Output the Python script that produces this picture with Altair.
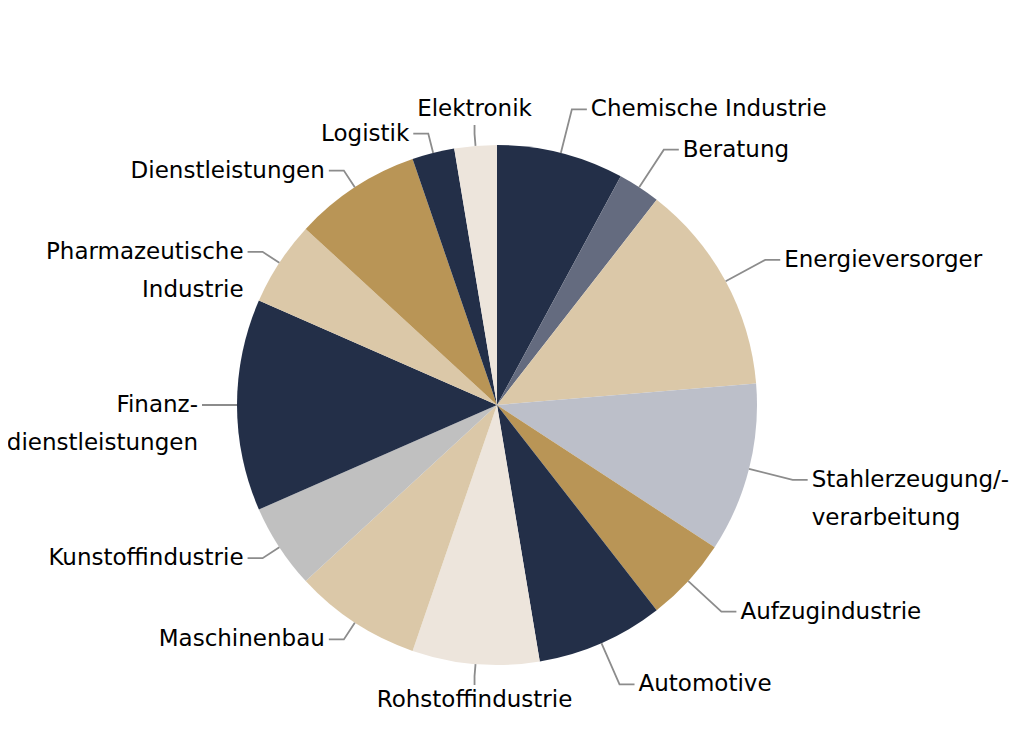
import numpy as np
import pandas as pd
import altair as alt

categories = [
    "Chemische Industrie", "Beratung", "Energieversorger",
    "Stahlerzeugung/-verarbeitung", "Aufzugindustrie", "Automotive",
    "Rohstoffindustrie", "Maschinenbau", "Kunstoffindustrie",
    "Finanzdienstleistungen", "Pharmazeutische Industrie",
    "Dienstleistungen", "Logistik", "Elektronik",
]
values = [3, 1, 5, 4, 2, 3, 3, 3, 2, 5, 2, 3, 1, 1]
labels = [
    "Chemische Industrie", "Beratung", "Energieversorger",
    "Stahlerzeugung/-\nverarbeitung", "Aufzugindustrie", "Automotive",
    "Rohstoffindustrie", "Maschinenbau", "Kunstoffindustrie",
    "Finanz-\ndienstleistungen", "Pharmazeutische\nIndustrie",
    "Dienstleistungen", "Logistik", "Elektronik",
]
colors = [
    "#232f48", "#646b7f", "#dbc8a8", "#bcbfc9", "#b99556", "#232f48",
    "#ede5dc", "#dbc8a8", "#c0c0c0", "#232f48", "#dbc8a8", "#b99556",
    "#232f48", "#ede5dc",
]

# layout
W, H = 1015, 713
CX, CY, R = 489, 397, 260
ELBOW_RIGHT = R + 45
ELBOW_LEFT = R + 20
ELBOW_VERT = R + 12
SEG = 15
GAP = 4
FONT = "DejaVu Sans"
FS = 23

df = pd.DataFrame({"category": categories, "value": values, "label": labels})
df["idx"] = np.arange(len(df))
total = df["value"].sum()
cum = df["value"].cumsum()
mid = (cum - df["value"] / 2) / total * 2 * np.pi
s, c = np.sin(mid), np.cos(mid)

line_rows, text_rows = [], []
for i, cat in enumerate(categories):
    si, ci = s.iloc[i], c.iloc[i]
    x0, y0 = CX + R * si, CY - R * ci
    if abs(si) < 0.2:
        sg = 1 if ci > 0 else -1
        x1, y1 = CX + ELBOW_VERT * si, CY - ELBOW_VERT * ci
        x2, y2 = x1, y1 - 9 * sg
        tx, ty = x2, y2 - GAP * sg
        side = "T" if ci > 0 else "B"
    else:
        sg = 1 if si > 0 else -1
        e = ELBOW_RIGHT if si > 0 else ELBOW_LEFT
        x1, y1 = CX + e * si, CY - e * ci
        x2, y2 = x1 + SEG * sg, y1
        tx, ty = x2 + GAP * sg, y2
        side = "L" if si > 0 else "R"
    for k, (px, py) in enumerate([(x0, y0), (x1, y1), (x2, y2)]):
        line_rows.append({"category": cat, "pt": k, "px": px, "py": py})
    text_rows.append({"category": cat, "label": labels[i], "px": tx, "py": ty, "side": side})

lines = pd.DataFrame(line_rows)
texts = pd.DataFrame(text_rows)

xs = alt.Scale(domain=[0, W], nice=False, zero=False)
ys = alt.Scale(domain=[0, H], reverse=True, nice=False, zero=False)

pie = alt.Chart(df).mark_arc(outerRadius=R, stroke=None).encode(
    theta=alt.Theta("value:Q", stack=True),
    color=alt.Color("category:N", scale=alt.Scale(domain=categories, range=colors), legend=None),
    order=alt.Order("idx:Q"),
    x=alt.value(CX),
    y=alt.value(CY),
)

leaders = alt.Chart(lines).mark_line(color="#8c8c8c", strokeWidth=1.8).encode(
    x=alt.X("px:Q", scale=xs, axis=None),
    y=alt.Y("py:Q", scale=ys, axis=None),
    detail="category:N",
    order="pt:Q",
)

def text_layer(side, align, baseline):
    return alt.Chart(texts).transform_filter(alt.datum.side == side).mark_text(
        align=align, baseline=baseline, font=FONT, fontSize=FS,
        color="#000000", lineBreak="\n", lineHeight=38,
    ).encode(
        x=alt.X("px:Q", scale=xs, axis=None),
        y=alt.Y("py:Q", scale=ys, axis=None),
        text="label:N",
    )

chart = alt.layer(
    pie, leaders,
    text_layer("L", "left", "middle"),
    text_layer("R", "right", "middle"),
    text_layer("T", "center", "bottom"),
    text_layer("B", "center", "top"),
).properties(
    width=W, height=H, padding=0, autosize=alt.AutoSizeParams(type="none"),
).configure_view(stroke=None)

chart.save("out.html", embed_options={"renderer": "svg", "actions": False})
